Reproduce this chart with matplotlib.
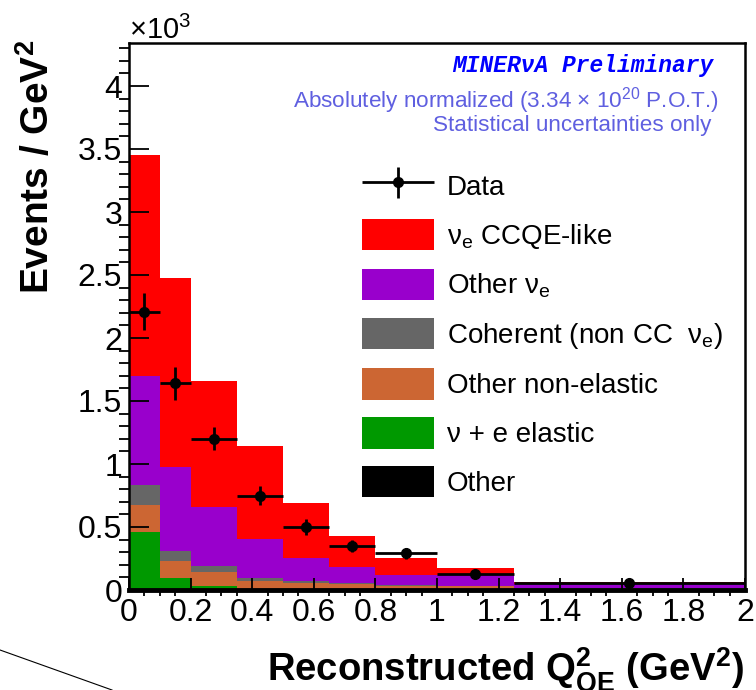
import matplotlib
matplotlib.use('Agg')
import matplotlib.pyplot as plt
import numpy as np
from matplotlib.lines import Line2D
from matplotlib.patches import Patch
from matplotlib.container import ErrorbarContainer
from matplotlib.legend_handler import HandlerErrorbar
from matplotlib.ticker import MultipleLocator, FuncFormatter

plt.rcParams['font.family'] = ['Liberation Sans', 'DejaVu Sans']
plt.rcParams['mathtext.fontset'] = 'custom'
plt.rcParams['mathtext.rm'] = 'Liberation Sans'
plt.rcParams['mathtext.it'] = 'Liberation Sans:italic'
plt.rcParams['mathtext.bf'] = 'Liberation Sans:bold'

# Q2_QE bin edges (GeV^2)
edges = [0, 0.1, 0.2, 0.35, 0.5, 0.65, 0.8, 1.0, 1.25, 2.0]

# predicted events / GeV^2 per component, units of 10^3
other = [0.0, 0.0, 0.0, 0.0, 0.0, 0.0, 0.0, 0.0, 0.0]
nu_e_elastic = [0.46, 0.095, 0.03, 0.005, 0.002, 0.0, 0.0, 0.0, 0.0]
non_elastic = [0.215, 0.135, 0.115, 0.07, 0.053, 0.045, 0.035, 0.03, 0.01]
coherent = [0.155, 0.08, 0.045, 0.02, 0.015, 0.01, 0.005, 0.003, 0.002]
other_nue = [0.87, 0.665, 0.47, 0.31, 0.185, 0.125, 0.08, 0.087, 0.033]
ccqe_like = [1.75, 1.505, 1.0, 0.735, 0.435, 0.25, 0.135, 0.055, 0.015]

# measured points, units of 10^3
data_x = [0.05, 0.15, 0.275, 0.425, 0.575, 0.725, 0.9, 1.125, 1.625]
data_y = [2.21, 1.64, 1.20, 0.75, 0.50, 0.35, 0.29, 0.127, 0.055]
data_err = [0.15, 0.13, 0.09, 0.075, 0.06, 0.05, 0.04, 0.02, 0.01]

stack = [other, nu_e_elastic, non_elastic, coherent, other_nue, ccqe_like]
colors = ['#000000', '#009900', '#cc6633', '#666666', '#9900cc', '#ff0000']
labels = ['Other', '\u03bd + e elastic', 'Other non-elastic',
          'Coherent (non CC  \u03bd$_{\\mathrm{e}}$)', 'Other \u03bd$_{\\mathrm{e}}$',
          '\u03bd$_{\\mathrm{e}}$ CCQE-like']

fig = plt.figure(figsize=(7.56, 6.9), dpi=100)
ax = fig.add_axes([129/756, 100/690, 616/756, 547/690])

base = np.zeros(len(edges) - 1)
for vals, c in zip(stack, colors):
    vals = np.array(vals)
    ax.stairs(base + vals, edges, baseline=base, fill=True, color=c, lw=0)
    base = base + vals

xerr = np.diff(edges) / 2
eb = ax.errorbar(data_x, data_y, xerr=xerr, yerr=data_err, fmt='o', color='black',
                 ms=7, elinewidth=2, capsize=0, zorder=5)

ax.set_xlim(0, 2)
ax.set_ylim(0, 547/126)

ax.xaxis.set_major_locator(MultipleLocator(0.2))
ax.xaxis.set_minor_locator(MultipleLocator(0.05))
ax.yaxis.set_major_locator(MultipleLocator(0.5))
ax.yaxis.set_minor_locator(MultipleLocator(0.1))
fmt = FuncFormatter(lambda v, p: '%g' % round(v, 3))
ax.xaxis.set_major_formatter(fmt)
ax.yaxis.set_major_formatter(fmt)

ax.tick_params(direction='in', top=False, right=False, labelsize=23, width=1.3)
ax.tick_params(axis='x', which='major', length=8.6, pad=6)
ax.tick_params(axis='x', which='minor', length=4.3, width=1.3)
ax.tick_params(axis='y', which='major', length=14.5, pad=5)
ax.tick_params(axis='y', which='minor', length=7.2, width=1.3)

for s in ['top', 'right', 'left']:
    ax.spines[s].set_linewidth(1.8)
ax.spines['bottom'].set_linewidth(3.5)

fig.text(129/756, 1 - 39/690, r'$\times$10$^{3}$', fontsize=21, ha='left', va='baseline')

fig.text(37/756, 1 - 167/690, r'Events / GeV$^{\mathbf{2}}$', fontsize=28, fontweight='bold',
         rotation=90, ha='center', va='center')
fig.text(744/756, 1 - 681/690, r'Reconstructed $\mathbf{Q^{2}_{QE}}$ (GeV$^{\mathbf{2}}$)',
         fontsize=27.5, fontweight='bold', ha='right', va='baseline')

fig.text(713/756, 1 - 72/690, 'MINER\u03bdA Preliminary', color='#0000ff', fontsize=16.5,
         family=['Liberation Mono', 'DejaVu Sans Mono'], fontweight='bold', style='italic',
         ha='right', va='baseline')
fig.text(719/756, 1 - 107/690, r'Absolutely normalized (3.34 $\times$ 10$^{20}$ P.O.T.)',
         color='#5f5fe0', fontsize=16.2, ha='right', va='baseline')
fig.text(711/756, 1 - 131/690, 'Statistical uncertainties only',
         color='#5f5fe0', fontsize=16.2, ha='right', va='baseline')

# legend: data first, then the stack from top to bottom
handles = [eb] + [Patch(color=c, lw=0) for c in colors[::-1]]
names = ['Data'] + labels[::-1]
ax.legend(handles, names, loc='upper left', bbox_to_anchor=(362/756, 1 - 170/690),
          bbox_transform=fig.transFigure, frameon=False, fontsize=20,
          handlelength=2.6, handleheight=1.35, labelspacing=0.64,
          handletextpad=0.45, borderpad=0, borderaxespad=0,
          handler_map={ErrorbarContainer: HandlerErrorbar(xerr_size=1.3, yerr_size=0.55)})

# stray line in the lower left corner
fig.add_artist(Line2D([0, 112/756], [1 - 650/690, 0], color='black', lw=0.8))

fig.savefig('out.png', dpi=100)
